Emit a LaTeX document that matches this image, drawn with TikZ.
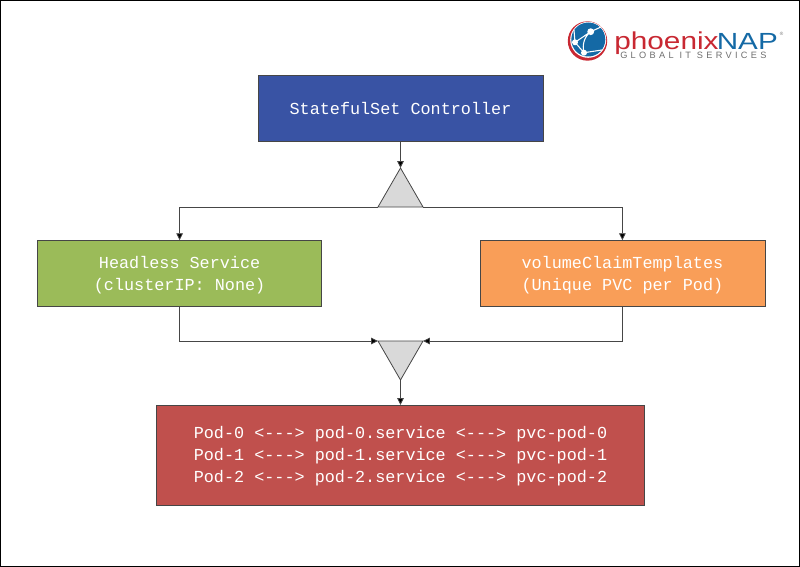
\documentclass[tikz,border=0pt]{standalone}
\usepackage{fontspec}
\usepackage{xcolor}
\usepackage{tikz}
\usetikzlibrary{arrows.meta,shapes.geometric}
\newfontfamily\boxfont{Liberation Mono}
\newfontfamily\logofont{Liberation Sans}
\newfontfamily\logosmall[LetterSpace=36]{Liberation Sans}
\newcommand{\toppad}{\rule{0pt}{11.5pt}}

\definecolor{ctrlblue}{RGB}{57,83,164}
\definecolor{svcgreen}{RGB}{155,187,89}
\definecolor{pvcorange}{RGB}{249,158,88}
\definecolor{podred}{RGB}{192,80,77}
\definecolor{trigray}{RGB}{217,217,217}
\definecolor{edgegray}{RGB}{70,70,70}
\definecolor{logored}{RGB}{200,40,50}
\definecolor{logoblue}{RGB}{20,105,165}
\definecolor{logogray}{RGB}{110,110,110}

\tikzset{
  box/.style={draw=edgegray,line width=0.6pt,inner sep=0pt,outer sep=0pt,text=white,
    align=center,font=\boxfont\fontsize{12.6}{16.5}\selectfont},
  tri/.style={regular polygon,regular polygon sides=3,draw=edgegray,fill=trigray,
    line width=0.6pt,inner sep=0pt,outer sep=0pt,minimum size=39pt},
  link/.style={draw=edgegray,line width=0.6pt,-{Triangle[length=5.2pt,width=5pt,fill=black]}},
  logotext/.style={inner sep=0pt,anchor=base west,text depth=0pt},
}

\begin{document}
\begin{tikzpicture}[x=0.75pt,y=0.75pt,yscale=-1,xscale=1]
\useasboundingbox (0,0) rectangle (800,567);
%Shape: Frame
\draw [black,line width=1.1pt] (0.7,0.7) rectangle (799.3,566.3);

% Text Node
\node [box,fill=ctrlblue,minimum width=213.75pt,minimum height=49.5pt] (ctrl) at (400.5,108.8) {StatefulSet Controller};
\node [box,fill=svcgreen,minimum width=213pt,minimum height=49.5pt] (svc) at (179.6,273.2) {\toppad Headless Service\\(clusterIP: None)};
\node [box,fill=pvcorange,minimum width=213.75pt,minimum height=49.5pt] (pvc) at (622.4,273.2) {\toppad volumeClaimTemplates\\(Unique PVC per Pod)};
\node [box,fill=podred,minimum width=366pt,minimum height=75pt] (pods) at (400.5,455) {\toppad Pod-0 <---> pod-0.service <---> pvc-pod-0\\Pod-1 <---> pod-1.service <---> pvc-pod-1\\Pod-2 <---> pod-2.service <---> pvc-pod-2};

%Shape: Triangle
\node [tri] (split) at (400.5,194) {};
\node [tri,shape border rotate=180] (merge) at (400.5,354) {};

%Connectors
\draw [link] (ctrl.south) -- (split.corner 1);
\draw [link] (split.corner 2) -| (svc.north);
\draw [link] (split.corner 3) -| (pvc.north);
\draw [link] (svc.south) |- (merge.corner 3);
\draw [link] (pvc.south) |- (merge.corner 2);
\draw [link] (merge.corner 1) -- (pods.north);

%Logo
\fill [logored] (587.5,41) circle (19.7);
\fill [white] (588.2,39.8) circle (18);
\fill [logoblue] (588.3,39.5) circle (17);
\draw [white,line width=0.8pt] (575,42.3) -- (590.7,31.7) -- (602,26.5) (575,42.3) -- (584,52.7) -- (602,50) (590.7,31.7) .. controls (584,37) and (582,45) .. (584,52.7) (575,42.3) -- (574,30);
\fill [white] (590.7,31.7) circle (3.4) (575,42.3) circle (3) (584,52.7) circle (3);
\node [logotext,font=\logofont\fontsize{18.3}{20}\selectfont,text=logored,xscale=1.22] (logoa) at (614,49.5) {phoenix};
\node [logotext,font=\logofont\fontsize{17.5}{20}\selectfont,text=logoblue,xscale=1.27] (logob) at (716.5,49.5) {NAP};
\node [logotext,font=\logofont\fontsize{3.5}{4}\selectfont,text=logogray] (logor) at (779.5,36) {®};
\node [logotext,font=\logosmall\fontsize{6.9}{8}\selectfont,text=logogray] (logoc) at (620,58.5) {GLOBAL IT SERVICES};
\end{tikzpicture}
\end{document}
